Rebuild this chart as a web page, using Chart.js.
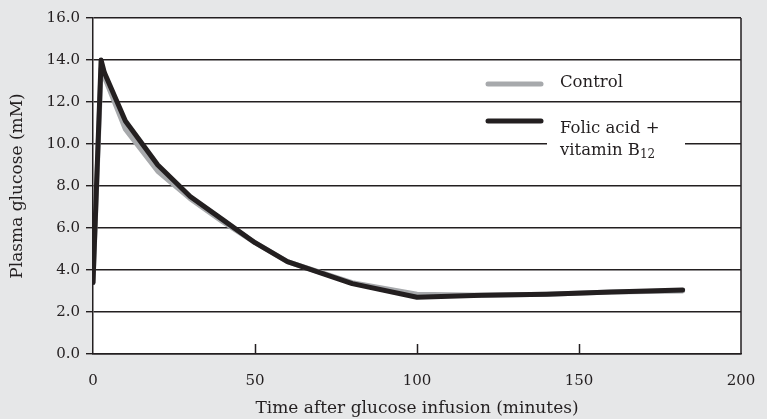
<!DOCTYPE html>
<html>
<head>
<meta charset="utf-8">
<script src="https://cdn.jsdelivr.net/npm/chart.js@4/dist/chart.umd.min.js"></script>
<style>
  html, body { margin: 0; padding: 0; background: #e6e7e8; }
  #wrap { width: 767px; height: 419px; }
</style>
</head>
<body>
<div id="wrap"><canvas id="chart-area" width="767" height="419"></canvas></div>
<script>
// minutes after infusion
var times = [0, 2.5, 3.5, 10, 20, 30, 40, 50, 60, 80, 100, 120, 140, 160, 182];
var controlGlucose = [3.4, 13.6, 13.2, 10.7, 8.7, 7.4, 6.3, 5.3, 4.4, 3.4, 2.85, 2.8, 2.85, 2.95, 3.0];
var folicGlucose   = [3.4, 14.0, 13.4, 11.1, 9.0, 7.5, 6.4, 5.3, 4.4, 3.35, 2.7, 2.8, 2.85, 2.95, 3.05];
var xTicks = [50, 100, 150];

var ink = '#231f20';
var FONT = "'DejaVu Serif', 'Liberation Serif', serif";

function pts(ys) {
  return times.map(function (t, i) { return { x: t, y: ys[i] }; });
}

// paper background, white plot, right border, inward x ticks
var framePlugin = {
  id: 'frame',
  beforeDraw: function (chart) {
    var c = chart.ctx, a = chart.chartArea;
    c.save();
    c.fillStyle = '#e6e7e8';
    c.fillRect(0, 0, chart.width, chart.height);
    c.fillStyle = '#ffffff';
    c.fillRect(a.left, a.top, a.right - a.left, a.bottom - a.top);
    c.restore();
  },
  afterDraw: function (chart) {
    var c = chart.ctx, a = chart.chartArea, xs = chart.scales.x;
    c.save();
    c.strokeStyle = ink;
    c.lineWidth = 1.5;
    c.beginPath();
    c.moveTo(a.right, a.top);
    c.lineTo(a.right, a.bottom);
    xTicks.forEach(function (v) {
      var px = Math.round(xs.getPixelForValue(v)) + 0.5;
      c.moveTo(px, a.bottom);
      c.lineTo(px, a.bottom - 10);
    });
    c.stroke();
    c.restore();
  }
};

// legend inside the plot
var legendPlugin = {
  id: 'insideLegend',
  afterDatasetsDraw: function (chart) {
    var c = chart.ctx;
    c.save();
    c.fillStyle = '#ffffff';
    c.fillRect(547, 112, 138, 50);
    c.lineCap = 'round';
    c.lineWidth = 5;
    c.strokeStyle = '#a7a9ac';
    c.beginPath(); c.moveTo(488, 84); c.lineTo(541, 84); c.stroke();
    c.strokeStyle = ink;
    c.beginPath(); c.moveTo(488, 121); c.lineTo(541, 121); c.stroke();
    c.fillStyle = ink;
    c.font = '16.5px ' + FONT;
    c.textBaseline = 'middle';
    c.textAlign = 'left';
    c.fillText('Control', 560, 83);
    c.fillText('Folic acid +', 560, 129);
    c.fillText('vitamin B', 560, 151);
    var w = c.measureText('vitamin B').width;
    c.font = '12px ' + FONT;
    c.fillText('12', 560 + w, 155);
    c.restore();
  }
};

new Chart(document.getElementById('chart-area').getContext('2d'), {
  type: 'line',
  data: {
    datasets: [{
      label: 'Folic acid + vitamin B12',
      data: pts(folicGlucose),
      borderColor: ink,
      borderWidth: 5,
      borderJoinStyle: 'round',
      borderCapStyle: 'round',
      pointRadius: 0,
      tension: 0,
      fill: false
    }, {
      label: 'Control',
      data: pts(controlGlucose),
      borderColor: '#a7a9ac',
      borderWidth: 5,
      borderJoinStyle: 'round',
      borderCapStyle: 'round',
      pointRadius: 0,
      tension: 0,
      fill: false
    }]
  },
  options: {
    responsive: false,
    animation: false,
    layout: { padding: { left: 0, right: 26, top: 18, bottom: 0 } },
    plugins: { legend: { display: false }, tooltip: { enabled: false } },
    scales: {
      x: {
        type: 'linear',
        min: 0, max: 200,
        ticks: { stepSize: 50, color: ink, font: { family: FONT, size: 15 }, padding: 18, maxRotation: 0 },
        grid: { display: false, drawTicks: false },
        border: { display: true, color: ink, width: 1.5 },
        title: { display: true, text: 'Time after glucose infusion (minutes)', color: ink,
                 font: { family: FONT, size: 17 }, padding: { top: 0, bottom: 0 } },
        afterFit: function (s) { s.height = 65; s.paddingLeft = 0; s.paddingRight = 0; }
      },
      y: {
        min: 0, max: 16,
        ticks: { stepSize: 2, color: ink, font: { family: FONT, size: 15 }, padding: 6,
                 callback: function (v) { return v.toFixed(1); } },
        grid: { color: ink, lineWidth: 1.4, tickLength: 7, drawTicks: true },
        border: { display: true, color: ink, width: 1.5 },
        title: { display: true, text: 'Plasma glucose (mM)', color: ink,
                 font: { family: FONT, size: 17 }, padding: { top: 7, bottom: 0 } },
        afterFit: function (s) { s.width = 93; s.paddingTop = 0; s.paddingBottom = 0; }
      }
    }
  },
  plugins: [framePlugin, legendPlugin]
});
</script>
</body>
</html>
